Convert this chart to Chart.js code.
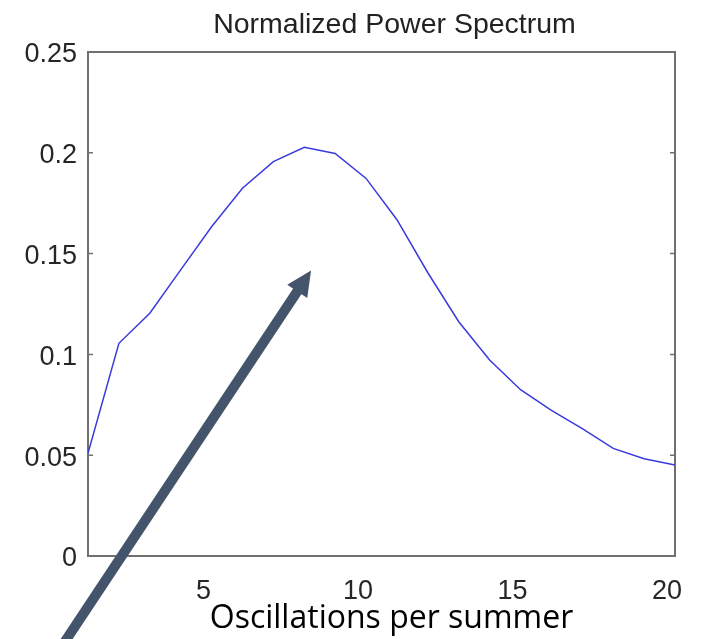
<!DOCTYPE html>
<html>
<head>
<meta charset="utf-8">
<script src="https://cdn.jsdelivr.net/npm/chart.js@4.4.0/dist/chart.umd.min.js"></script>
<style>
  html, body { margin: 0; padding: 0; background: #fff; }
</style>
</head>
<body>
<canvas id="myChart" width="701" height="639"></canvas>
<script>
// data
const oscillations = [1, 2, 3, 4, 5, 6, 7, 8, 9, 10, 11, 12, 13, 14, 15, 16, 17, 18, 19, 20];
const power = [0.051, 0.1055, 0.1204, 0.1419, 0.1633, 0.1824, 0.1956, 0.2027, 0.1997, 0.1873,
               0.1668, 0.1405, 0.1162, 0.0972, 0.0825, 0.0722, 0.0632, 0.0534, 0.0482, 0.0451];
const xTicks = [5, 10, 15, 20];
const yTicks = [0, 0.05, 0.1, 0.15, 0.2, 0.25];
const chartTitle = 'Normalized Power Spectrum';
const xTitle = 'Oscillations per summer';
// annotation arrow, in data units
const arrowFrom = [0.16, -0.0446];
const arrowTo = [8.22, 0.1416];

const frameColor = '#707070';

// box, inner ticks, texts and the arrow
const extras = {
    id: 'extras',
    beforeDatasetsDraw(chart) {
        const { ctx, chartArea: a, scales: { y } } = chart;
        ctx.save();
        ctx.strokeStyle = frameColor;
        ctx.lineWidth = 2;
        ctx.strokeRect(a.left, a.top, a.right - a.left, a.bottom - a.top);
        ctx.lineWidth = 1.5;
        y.ticks.forEach(t => {
            const py = y.getPixelForValue(t.value);
            ctx.beginPath();
            ctx.moveTo(a.left, py);
            ctx.lineTo(a.left + 5, py);
            ctx.moveTo(a.right, py);
            ctx.lineTo(a.right - 5, py);
            ctx.stroke();
        });
        ctx.restore();
    },
    afterDraw(chart) {
        const { ctx, chartArea: a, scales: { x, y } } = chart;
        const mid = (a.left + a.right) / 2;
        ctx.save();
        ctx.textAlign = 'center';
        ctx.textBaseline = 'alphabetic';
        ctx.fillStyle = '#222';
        ctx.font = '28.5px "Liberation Sans"';
        ctx.fillText(chartTitle, mid + 13, a.top - 19);
        ctx.fillStyle = '#000';
        ctx.font = '32px "Open Sans"';
        ctx.fillText(xTitle, mid + 10, a.bottom + 72);

        // arrow
        const x0 = x.getPixelForValue(arrowFrom[0]), y0 = y.getPixelForValue(arrowFrom[1]);
        const x1 = x.getPixelForValue(arrowTo[0]), y1 = y.getPixelForValue(arrowTo[1]);
        const ang = Math.atan2(y1 - y0, x1 - x0);
        const c = Math.cos(ang), s = Math.sin(ang);
        const headLen = 25, headW = 24;
        const bx = x1 - headLen * c, by = y1 - headLen * s;
        ctx.strokeStyle = '#44546a';
        ctx.fillStyle = '#44546a';
        ctx.lineWidth = 10;
        ctx.beginPath();
        ctx.moveTo(x0, y0);
        ctx.lineTo(bx + 2 * c, by + 2 * s);
        ctx.stroke();
        ctx.beginPath();
        ctx.moveTo(x1, y1);
        ctx.lineTo(bx - headW / 2 * s, by + headW / 2 * c);
        ctx.lineTo(bx + headW / 2 * s, by - headW / 2 * c);
        ctx.closePath();
        ctx.fill();
        ctx.restore();
    }
};

const ctx = document.getElementById('myChart');

new Chart(ctx, {
    type: 'line',
    data: {
        datasets: [{
            label: 'Power',
            data: oscillations.map((v, i) => ({ x: v, y: power[i] })),
            borderColor: '#3a3ade',
            borderWidth: 1.5,
            pointRadius: 0,
            tension: 0,
            fill: false
        }]
    },
    options: {
        responsive: false,
        animation: false,
        layout: { padding: { top: 52, right: 26, left: 0, bottom: 0 } },
        plugins: {
            legend: { display: false },
            title: { display: false },
            tooltip: { enabled: false }
        },
        scales: {
            x: {
                type: 'linear',
                min: 1,
                max: 20,
                afterBuildTicks: (axis) => { axis.ticks = xTicks.map(v => ({ value: v })); },
                afterFit: (axis) => {
                    axis.height = 83;
                    axis.paddingLeft = 0;
                    axis.paddingRight = 0;
                },
                grid: { display: false, drawTicks: false },
                border: { display: false },
                ticks: {
                    autoSkip: false,
                    maxRotation: 0,
                    labelOffset: -8,
                    padding: 19,
                    color: '#262626',
                    font: { family: 'Liberation Sans', size: 27 },
                    callback: (v) => String(+Number(v).toFixed(2))
                }
            },
            y: {
                min: 0,
                max: 0.25,
                afterBuildTicks: (axis) => { axis.ticks = yTicks.map(v => ({ value: v })); },
                afterFit: (axis) => { axis.width = 88; },
                grid: { display: false, drawTicks: false },
                border: { display: false },
                ticks: {
                    padding: 11,
                    labelOffset: 3,
                    color: '#262626',
                    font: { family: 'Liberation Sans', size: 27 },
                    callback: (v) => String(+Number(v).toFixed(2))
                }
            }
        }
    },
    plugins: [extras]
});
</script>
</body>
</html>
